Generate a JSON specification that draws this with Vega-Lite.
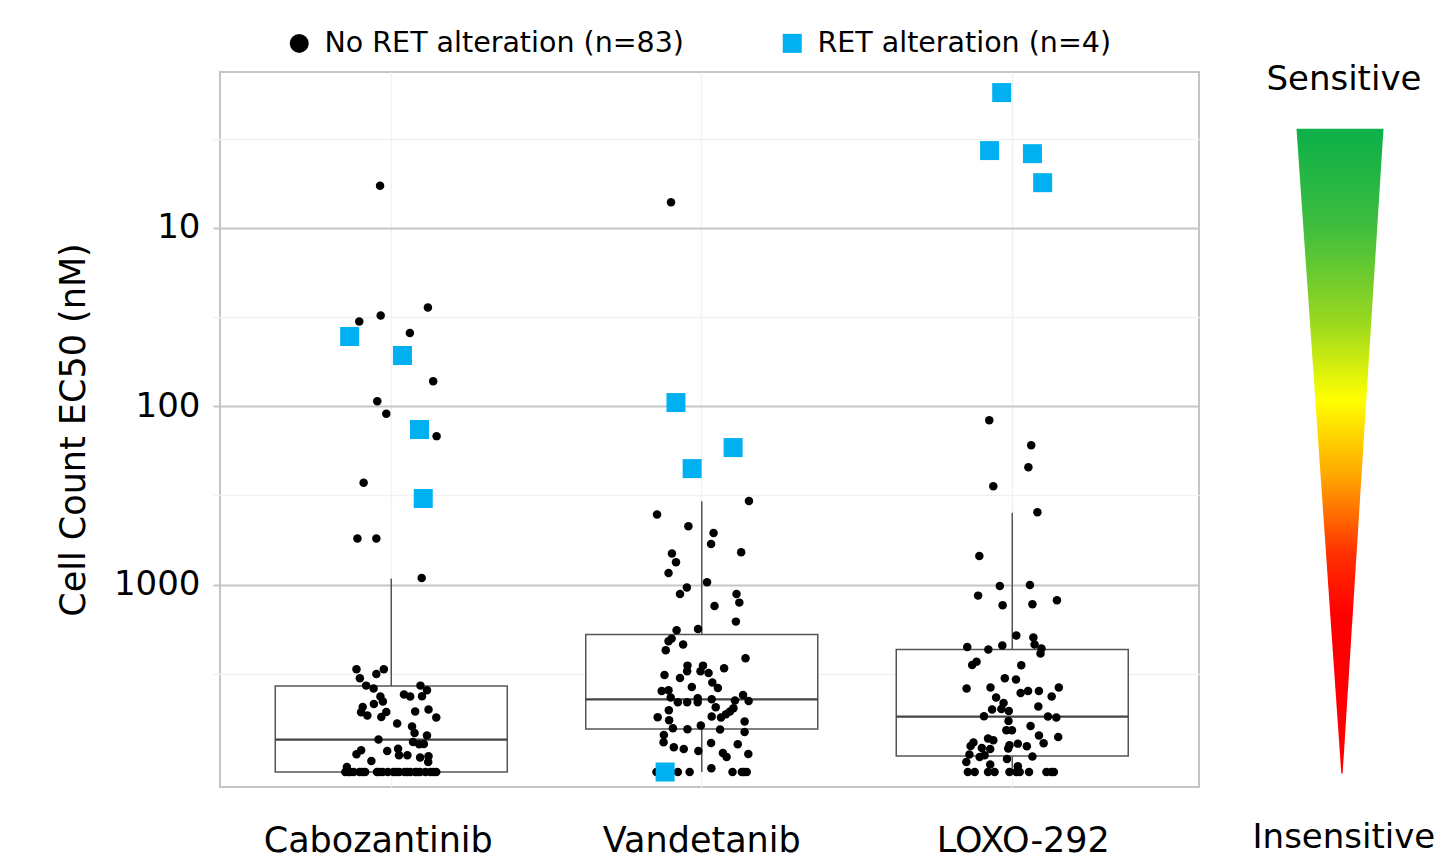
{
"$schema": "https://vega.github.io/schema/vega-lite/v6.json",
"background": "white",
"padding": {"left": 55, "top": 29, "right": 0, "bottom": 0},
"config": {"font": "DejaVu Sans", "concat": {"spacing": 42}},
"datasets": {
"box": [
{"d":"Cabozantinib","lo":925,"q1":3705,"med":7401,"q3":11250,"hi":11250},
{"d":"Vandetanib","lo":341,"q1":1907,"med":4398,"q3":6455,"hi":11250},
{"d":"LOXO-292","lo":395,"q1":2315,"med":5499,"q3":9149,"hi":11250}
],
"pts": [
{"d":"Cabozantinib","j":-0.036,"v":5.8,"g":"No"},{"d":"Cabozantinib","j":0.118,"v":27.9,"g":"No"},{"d":"Cabozantinib","j":-0.034,"v":31,"g":"No"},{"d":"Cabozantinib","j":-0.103,"v":33.5,"g":"No"},{"d":"Cabozantinib","j":0.06,"v":38.8,"g":"No"},{"d":"Cabozantinib","j":0.135,"v":72.4,"g":"No"},{"d":"Cabozantinib","j":-0.045,"v":93.8,"g":"No"},{"d":"Cabozantinib","j":-0.016,"v":110,"g":"No"},{"d":"Cabozantinib","j":0.146,"v":147,"g":"No"},{"d":"Cabozantinib","j":-0.089,"v":268,"g":"No"},{"d":"Cabozantinib","j":-0.109,"v":552,"g":"No"},{"d":"Cabozantinib","j":-0.048,"v":552,"g":"No"},{"d":"Cabozantinib","j":0.098,"v":918,"g":"No"},
{"d":"Cabozantinib","j":-0.112,"v":2985,"g":"No"},{"d":"Cabozantinib","j":-0.048,"v":3172,"g":"No"},{"d":"Cabozantinib","j":-0.024,"v":2985,"g":"No"},{"d":"Cabozantinib","j":-0.101,"v":3354,"g":"No"},{"d":"Cabozantinib","j":-0.081,"v":3686,"g":"No"},{"d":"Cabozantinib","j":-0.057,"v":3831,"g":"No"},{"d":"Cabozantinib","j":0.094,"v":3686,"g":"No"},{"d":"Cabozantinib","j":0.115,"v":3915,"g":"No"},{"d":"Cabozantinib","j":0.041,"v":4140,"g":"No"},{"d":"Cabozantinib","j":0.061,"v":4248,"g":"No"},{"d":"Cabozantinib","j":0.099,"v":4232,"g":"No"},{"d":"Cabozantinib","j":-0.035,"v":4248,"g":"No"},{"d":"Cabozantinib","j":-0.027,"v":4531,"g":"No"},{"d":"Cabozantinib","j":-0.056,"v":4675,"g":"No"},{"d":"Cabozantinib","j":-0.092,"v":4860,"g":"No"},{"d":"Cabozantinib","j":-0.097,"v":5203,"g":"No"},{"d":"Cabozantinib","j":-0.077,"v":5428,"g":"No"},{"d":"Cabozantinib","j":-0.016,"v":5182,"g":"No"},{"d":"Cabozantinib","j":-0.032,"v":5527,"g":"No"},{"d":"Cabozantinib","j":0.077,"v":5156,"g":"No"},{"d":"Cabozantinib","j":0.12,"v":5024,"g":"No"},{"d":"Cabozantinib","j":0.145,"v":5570,"g":"No"},{"d":"Cabozantinib","j":0.019,"v":6020,"g":"No"},{"d":"Cabozantinib","j":0.067,"v":6258,"g":"No"},{"d":"Cabozantinib","j":0.075,"v":6799,"g":"No"},{"d":"Cabozantinib","j":0.115,"v":7030,"g":"No"},{"d":"Cabozantinib","j":-0.041,"v":7401,"g":"No"},{"d":"Cabozantinib","j":0.07,"v":7635,"g":"No"},{"d":"Cabozantinib","j":0.09,"v":7866,"g":"No"},{"d":"Cabozantinib","j":0.105,"v":7834,"g":"No"},{"d":"Cabozantinib","j":-0.097,"v":8501,"g":"No"},{"d":"Cabozantinib","j":-0.112,"v":8950,"g":"No"},{"d":"Cabozantinib","j":-0.013,"v":8578,"g":"No"},{"d":"Cabozantinib","j":0.022,"v":8317,"g":"No"},{"d":"Cabozantinib","j":0.025,"v":9067,"g":"No"},{"d":"Cabozantinib","j":0.052,"v":9067,"g":"No"},{"d":"Cabozantinib","j":0.093,"v":9340,"g":"No"},{"d":"Cabozantinib","j":0.12,"v":9184,"g":"No"},{"d":"Cabozantinib","j":0.119,"v":9886,"g":"No"},{"d":"Cabozantinib","j":-0.064,"v":9757,"g":"No"},
{"d":"Cabozantinib","j":-0.143,"v":10540,"g":"No"},{"d":"Cabozantinib","j":-0.148,"v":11250,"g":"No"},{"d":"Cabozantinib","j":-0.139,"v":11250,"g":"No"},{"d":"Cabozantinib","j":-0.132,"v":11250,"g":"No"},{"d":"Cabozantinib","j":-0.121,"v":11250,"g":"No"},{"d":"Cabozantinib","j":-0.102,"v":11250,"g":"No"},{"d":"Cabozantinib","j":-0.093,"v":11250,"g":"No"},{"d":"Cabozantinib","j":-0.084,"v":11250,"g":"No"},{"d":"Cabozantinib","j":-0.046,"v":11250,"g":"No"},{"d":"Cabozantinib","j":-0.039,"v":11250,"g":"No"},{"d":"Cabozantinib","j":-0.028,"v":11250,"g":"No"},{"d":"Cabozantinib","j":-0.011,"v":11250,"g":"No"},{"d":"Cabozantinib","j":0.007,"v":11250,"g":"No"},{"d":"Cabozantinib","j":0.016,"v":11250,"g":"No"},{"d":"Cabozantinib","j":0.026,"v":11250,"g":"No"},{"d":"Cabozantinib","j":0.043,"v":11250,"g":"No"},{"d":"Cabozantinib","j":0.052,"v":11250,"g":"No"},{"d":"Cabozantinib","j":0.061,"v":11250,"g":"No"},{"d":"Cabozantinib","j":0.077,"v":11250,"g":"No"},{"d":"Cabozantinib","j":0.084,"v":11250,"g":"No"},{"d":"Cabozantinib","j":0.093,"v":11250,"g":"No"},{"d":"Cabozantinib","j":0.11,"v":11250,"g":"No"},{"d":"Cabozantinib","j":0.126,"v":11250,"g":"No"},{"d":"Cabozantinib","j":0.135,"v":11250,"g":"No"},{"d":"Cabozantinib","j":0.145,"v":11250,"g":"No"},
{"d":"Vandetanib","j":-0.099,"v":7.18,"g":"No"},{"d":"Vandetanib","j":0.152,"v":340,"g":"No"},{"d":"Vandetanib","j":-0.144,"v":405,"g":"No"},{"d":"Vandetanib","j":-0.043,"v":471,"g":"No"},{"d":"Vandetanib","j":0.038,"v":513,"g":"No"},{"d":"Vandetanib","j":0.03,"v":592,"g":"No"},{"d":"Vandetanib","j":0.127,"v":659,"g":"No"},{"d":"Vandetanib","j":-0.096,"v":670,"g":"No"},{"d":"Vandetanib","j":-0.083,"v":750,"g":"No"},{"d":"Vandetanib","j":-0.107,"v":861,"g":"No"},{"d":"Vandetanib","j":0.017,"v":971,"g":"No"},{"d":"Vandetanib","j":-0.048,"v":1039,"g":"No"},{"d":"Vandetanib","j":-0.07,"v":1129,"g":"No"},{"d":"Vandetanib","j":0.112,"v":1129,"g":"No"},{"d":"Vandetanib","j":0.121,"v":1262,"g":"No"},{"d":"Vandetanib","j":0.041,"v":1318,"g":"No"},{"d":"Vandetanib","j":0.11,"v":1613,"g":"No"},{"d":"Vandetanib","j":-0.081,"v":1805,"g":"No"},{"d":"Vandetanib","j":-0.012,"v":1774,"g":"No"},{"d":"Vandetanib","j":-0.097,"v":2009,"g":"No"},{"d":"Vandetanib","j":-0.107,"v":2080,"g":"No"},{"d":"Vandetanib","j":-0.06,"v":2170,"g":"No"},{"d":"Vandetanib","j":-0.116,"v":2336,"g":"No"},{"d":"Vandetanib","j":0.141,"v":2590,"g":"No"},{"d":"Vandetanib","j":-0.046,"v":2847,"g":"No"},{"d":"Vandetanib","j":-0.047,"v":3064,"g":"No"},{"d":"Vandetanib","j":0.004,"v":2847,"g":"No"},{"d":"Vandetanib","j":-0.004,"v":3064,"g":"No"},{"d":"Vandetanib","j":0.022,"v":3132,"g":"No"},{"d":"Vandetanib","j":0.072,"v":2947,"g":"No"},{"d":"Vandetanib","j":-0.12,"v":3214,"g":"No"},{"d":"Vandetanib","j":-0.07,"v":3341,"g":"No"},{"d":"Vandetanib","j":-0.032,"v":3752,"g":"No"},{"d":"Vandetanib","j":0.034,"v":3545,"g":"No"},{"d":"Vandetanib","j":0.052,"v":3801,"g":"No"},{"d":"Vandetanib","j":-0.129,"v":3953,"g":"No"},{"d":"Vandetanib","j":-0.107,"v":3916,"g":"No"},{"d":"Vandetanib","j":-0.1,"v":4303,"g":"No"},{"d":"Vandetanib","j":-0.077,"v":4572,"g":"No"},{"d":"Vandetanib","j":-0.047,"v":4572,"g":"No"},{"d":"Vandetanib","j":-0.013,"v":4342,"g":"No"},{"d":"Vandetanib","j":-0.013,"v":4572,"g":"No"},{"d":"Vandetanib","j":0.032,"v":4398,"g":"No"},{"d":"Vandetanib","j":0.045,"v":4877,"g":"No"},{"d":"Vandetanib","j":0.107,"v":4473,"g":"No"},{"d":"Vandetanib","j":0.133,"v":4162,"g":"No"},{"d":"Vandetanib","j":0.151,"v":4496,"g":"No"},{"d":"Vandetanib","j":0.102,"v":4940,"g":"No"},{"d":"Vandetanib","j":0.091,"v":5156,"g":"No"},{"d":"Vandetanib","j":0.078,"v":5339,"g":"No"},{"d":"Vandetanib","j":0.062,"v":5570,"g":"No"},{"d":"Vandetanib","j":0.032,"v":5499,"g":"No"},{"d":"Vandetanib","j":-0.106,"v":5070,"g":"No"},{"d":"Vandetanib","j":-0.142,"v":5549,"g":"No"},{"d":"Vandetanib","j":-0.105,"v":5768,"g":"No"},{"d":"Vandetanib","j":0.138,"v":5866,"g":"No"},{"d":"Vandetanib","j":-0.093,"v":6396,"g":"No"},{"d":"Vandetanib","j":-0.046,"v":6479,"g":"No"},{"d":"Vandetanib","j":-0.003,"v":6178,"g":"No"},{"d":"Vandetanib","j":0.059,"v":6505,"g":"No"},{"d":"Vandetanib","j":0.138,"v":6710,"g":"No"},{"d":"Vandetanib","j":-0.122,"v":6975,"g":"No"},{"d":"Vandetanib","j":-0.123,"v":7664,"g":"No"},{"d":"Vandetanib","j":-0.09,"v":8177,"g":"No"},{"d":"Vandetanib","j":-0.058,"v":8356,"g":"No"},{"d":"Vandetanib","j":-0.011,"v":8576,"g":"No"},{"d":"Vandetanib","j":0.03,"v":7733,"g":"No"},{"d":"Vandetanib","j":0.116,"v":7866,"g":"No"},{"d":"Vandetanib","j":0.068,"v":8800,"g":"No"},{"d":"Vandetanib","j":0.08,"v":9267,"g":"No"},{"d":"Vandetanib","j":0.15,"v":8914,"g":"No"},
{"d":"Vandetanib","j":0.031,"v":10720,"g":"No"},{"d":"Vandetanib","j":-0.146,"v":11250,"g":"No"},{"d":"Vandetanib","j":-0.129,"v":11250,"g":"No"},{"d":"Vandetanib","j":-0.077,"v":11250,"g":"No"},{"d":"Vandetanib","j":-0.039,"v":11250,"g":"No"},{"d":"Vandetanib","j":0.099,"v":11250,"g":"No"},{"d":"Vandetanib","j":0.129,"v":11250,"g":"No"},{"d":"Vandetanib","j":0.136,"v":11250,"g":"No"},{"d":"Vandetanib","j":0.145,"v":11250,"g":"No"},
{"d":"LOXO-292","j":-0.074,"v":119.8,"g":"No"},{"d":"LOXO-292","j":0.061,"v":165.4,"g":"No"},{"d":"LOXO-292","j":0.052,"v":219.9,"g":"No"},{"d":"LOXO-292","j":-0.061,"v":281,"g":"No"},{"d":"LOXO-292","j":0.081,"v":393,"g":"No"},{"d":"LOXO-292","j":-0.106,"v":691,"g":"No"},{"d":"LOXO-292","j":-0.04,"v":1018,"g":"No"},{"d":"LOXO-292","j":0.057,"v":1005,"g":"No"},{"d":"LOXO-292","j":-0.11,"v":1153,"g":"No"},{"d":"LOXO-292","j":-0.031,"v":1307,"g":"No"},{"d":"LOXO-292","j":0.065,"v":1290,"g":"No"},{"d":"LOXO-292","j":0.144,"v":1225,"g":"No"},{"d":"LOXO-292","j":0.013,"v":1932,"g":"No"},{"d":"LOXO-292","j":0.068,"v":1983,"g":"No"},{"d":"LOXO-292","j":0.072,"v":2170,"g":"No"},{"d":"LOXO-292","j":-0.145,"v":2239,"g":"No"},{"d":"LOXO-292","j":-0.077,"v":2315,"g":"No"},{"d":"LOXO-292","j":-0.032,"v":2198,"g":"No"},{"d":"LOXO-292","j":0.094,"v":2285,"g":"No"},{"d":"LOXO-292","j":0.091,"v":2438,"g":"No"},{"d":"LOXO-292","j":-0.115,"v":2704,"g":"No"},{"d":"LOXO-292","j":-0.129,"v":2824,"g":"No"},{"d":"LOXO-292","j":0.029,"v":2836,"g":"No"},{"d":"LOXO-292","j":-0.024,"v":3354,"g":"No"},{"d":"LOXO-292","j":0.012,"v":3411,"g":"No"},{"d":"LOXO-292","j":-0.147,"v":3831,"g":"No"},{"d":"LOXO-292","j":-0.07,"v":3782,"g":"No"},{"d":"LOXO-292","j":0.027,"v":4055,"g":"No"},{"d":"LOXO-292","j":0.051,"v":3953,"g":"No"},{"d":"LOXO-292","j":0.086,"v":3953,"g":"No"},{"d":"LOXO-292","j":0.15,"v":3782,"g":"No"},{"d":"LOXO-292","j":0.127,"v":4248,"g":"No"},{"d":"LOXO-292","j":-0.052,"v":4303,"g":"No"},{"d":"LOXO-292","j":-0.028,"v":4613,"g":"No"},{"d":"LOXO-292","j":-0.065,"v":5024,"g":"No"},{"d":"LOXO-292","j":-0.035,"v":4986,"g":"No"},{"d":"LOXO-292","j":-0.011,"v":5115,"g":"No"},{"d":"LOXO-292","j":0.084,"v":4833,"g":"No"},{"d":"LOXO-292","j":-0.091,"v":5478,"g":"No"},{"d":"LOXO-292","j":-0.012,"v":5821,"g":"No"},{"d":"LOXO-292","j":0.115,"v":5499,"g":"No"},{"d":"LOXO-292","j":0.142,"v":5570,"g":"No"},{"d":"LOXO-292","j":0.059,"v":6209,"g":"No"},{"d":"LOXO-292","j":-0.019,"v":6565,"g":"No"},{"d":"LOXO-292","j":-0.001,"v":6565,"g":"No"},{"d":"LOXO-292","j":-0.078,"v":7307,"g":"No"},{"d":"LOXO-292","j":-0.061,"v":7468,"g":"No"},{"d":"LOXO-292","j":0.086,"v":7030,"g":"No"},{"d":"LOXO-292","j":0.148,"v":7159,"g":"No"},{"d":"LOXO-292","j":-0.125,"v":7693,"g":"No"},{"d":"LOXO-292","j":-0.134,"v":8040,"g":"No"},{"d":"LOXO-292","j":-0.009,"v":7968,"g":"No"},{"d":"LOXO-292","j":0.018,"v":7796,"g":"No"},{"d":"LOXO-292","j":0.047,"v":8071,"g":"No"},{"d":"LOXO-292","j":0.101,"v":7766,"g":"No"},{"d":"LOXO-292","j":-0.098,"v":8250,"g":"No"},{"d":"LOXO-292","j":-0.071,"v":8356,"g":"No"},{"d":"LOXO-292","j":-0.013,"v":8314,"g":"No"},{"d":"LOXO-292","j":-0.138,"v":8983,"g":"No"},{"d":"LOXO-292","j":-0.105,"v":9267,"g":"No"},{"d":"LOXO-292","j":-0.089,"v":9067,"g":"No"},{"d":"LOXO-292","j":0.065,"v":9220,"g":"No"},{"d":"LOXO-292","j":-0.017,"v":9510,"g":"No"},{"d":"LOXO-292","j":-0.148,"v":9886,"g":"No"},{"d":"LOXO-292","j":-0.071,"v":10220,"g":"No"},{"d":"LOXO-292","j":0.018,"v":10450,"g":"No"},
{"d":"LOXO-292","j":-0.143,"v":11250,"g":"No"},{"d":"LOXO-292","j":-0.121,"v":11250,"g":"No"},{"d":"LOXO-292","j":-0.078,"v":11250,"g":"No"},{"d":"LOXO-292","j":-0.057,"v":11250,"g":"No"},{"d":"LOXO-292","j":-0.009,"v":11250,"g":"No"},{"d":"LOXO-292","j":0.013,"v":11250,"g":"No"},{"d":"LOXO-292","j":0.024,"v":11250,"g":"No"},{"d":"LOXO-292","j":0.054,"v":11250,"g":"No"},{"d":"LOXO-292","j":0.11,"v":11250,"g":"No"},{"d":"LOXO-292","j":0.126,"v":11250,"g":"No"},{"d":"LOXO-292","j":0.134,"v":11250,"g":"No"}
],
"ret": [
{"d":"Cabozantinib","j":-0.134,"v":40.6,"g":"RET"},{"d":"Cabozantinib","j":0.036,"v":51.9,"g":"RET"},{"d":"Cabozantinib","j":0.091,"v":135,"g":"RET"},{"d":"Cabozantinib","j":0.103,"v":329,"g":"RET"},
{"d":"Vandetanib","j":-0.083,"v":95.3,"g":"RET"},{"d":"Vandetanib","j":0.101,"v":170.4,"g":"RET"},{"d":"Vandetanib","j":-0.031,"v":223.6,"g":"RET"},{"d":"Vandetanib","j":-0.118,"v":11250,"g":"RET"},
{"d":"LOXO-292","j":-0.034,"v":1.74,"g":"RET"},{"d":"LOXO-292","j":-0.073,"v":3.68,"g":"RET"},{"d":"LOXO-292","j":0.065,"v":3.83,"g":"RET"},{"d":"LOXO-292","j":0.098,"v":5.57,"g":"RET"}
],
"tri": [{"t":0,"xl":-1,"xr":1},{"t":1,"xl":0.03,"xr":0.06}],
"lbl": [{"s":"Sensitive","t":-0.0752,"x":0.09},{"s":"Insensitive","t":1.1001,"x":0.09}]
},
"hconcat": [
{
"width": 979, "height": 715,
"view": {"stroke": "#c4c4c4", "strokeWidth": 2},
"layer": [
{"data": {"name": "box"},
 "mark": {"type": "rule", "color": "#555555", "strokeWidth": 1.5},
 "encoding": {
  "x": {"field": "d", "type": "nominal",
   "scale": {"domain": ["Cabozantinib","Vandetanib","LOXO-292"], "paddingInner": 0, "paddingOuter": 0.0765, "align": 0.337},
   "axis": {"title": null, "domain": false, "ticks": false, "tickSize": 0, "grid": true, "gridColor": "#f2f2f2", "gridWidth": 1.5, "bandPosition": 0.5,
    "labelFontSize": 35, "labelColor": "black", "labelPadding": 36, "labelAngle": 0, "labelLimit": 0,
    "labelOffset": {"condition": [{"test": "datum.value == 'Cabozantinib'", "value": -13}, {"test": "datum.value == 'LOXO-292'", "value": 11}], "value": 0}}},
  "y": {"field": "lo", "type": "quantitative",
   "scale": {"type": "log", "domain": [1.334, 13650], "reverse": true, "nice": false, "zero": false},
   "axis": {"values": [3.1623, 10, 31.623, 100, 316.23, 1000, 3162.3], "grid": true, "domain": false,
    "gridColor": {"condition": {"test": "datum.value == 10 || datum.value == 100 || datum.value == 1000", "value": "#c6c6c6"}, "value": "#f1f1f1"},
    "gridWidth": {"condition": {"test": "datum.value == 10 || datum.value == 100 || datum.value == 1000", "value": 2}, "value": 1.5},
    "tickColor": {"condition": {"test": "datum.value == 10 || datum.value == 100 || datum.value == 1000", "value": "#c6c6c6"}, "value": "#f1f1f1"},
    "tickWidth": {"condition": {"test": "datum.value == 10 || datum.value == 100 || datum.value == 1000", "value": 2}, "value": 1.5},
    "tickSize": 7,
    "labelExpr": "datum.value == 10 || datum.value == 100 || datum.value == 1000 ? format(datum.value, 'd') : ''",
    "labelFontSize": 34, "labelColor": "black", "labelPadding": 13,
    "title": "Cell Count EC50 (nM)", "titleFontSize": 35, "titleFontWeight": "normal", "titleColor": "black", "titlePadding": 22}},
  "y2": {"field": "hi"}}},
{"data": {"name": "box"},
 "mark": {"type": "bar", "fill": "white", "stroke": "#555555", "strokeWidth": 1.5, "width": 232},
 "encoding": {"x": {"field": "d", "type": "nominal"}, "y": {"field": "q1", "type": "quantitative"}, "y2": {"field": "q3"}}},
{"data": {"name": "box"},
 "mark": {"type": "bar", "fill": "#444444", "stroke": "#444444", "strokeWidth": 2.2, "width": 232},
 "encoding": {"x": {"field": "d", "type": "nominal"}, "y": {"field": "med", "type": "quantitative"}, "y2": {"field": "med"}}},
{"data": {"name": "pts"},
 "mark": {"type": "point", "filled": true, "opacity": 1, "size": 72},
 "encoding": {
  "x": {"field": "d", "type": "nominal"},
  "xOffset": {"field": "j", "type": "quantitative", "scale": {"domain": [-0.5, 0.5]}},
  "y": {"field": "v", "type": "quantitative"},
  "color": {"field": "g", "type": "nominal", "scale": {"domain": ["No","RET"], "range": ["#000000","#00b0f0"]},
   "legend": {"orient": "none", "legendX": 65, "legendY": -43, "direction": "horizontal", "title": null,
    "labelExpr": "datum.label == 'No' ? 'No RET alteration (n=83)' : 'RET alteration (n=4)'",
    "labelFontSize": 28.5, "labelColor": "black", "labelLimit": 0, "symbolSize": 361, "labelOffset": 11, "columnPadding": 94, "symbolStrokeWidth": 0}},
  "shape": {"field": "g", "type": "nominal", "scale": {"domain": ["No","RET"], "range": ["circle","square"]}}}},
{"data": {"name": "ret"},
 "mark": {"type": "point", "filled": true, "opacity": 1, "size": 361},
 "encoding": {
  "x": {"field": "d", "type": "nominal"},
  "xOffset": {"field": "j", "type": "quantitative"},
  "y": {"field": "v", "type": "quantitative"},
  "color": {"field": "g", "type": "nominal"},
  "shape": {"field": "g", "type": "nominal"}}}
]
},
{
"width": 197, "height": 715,
"view": {"stroke": null},
"layer": [
{"data": {"name": "tri"},
 "mark": {"type": "area", "orient": "horizontal",
  "color": {"gradient": "linear", "x1": 0, "y1": 0, "x2": 0, "y2": 1,
   "stops": [{"offset": 0, "color": "#0cb04a"}, {"offset": 0.15, "color": "#3dbd3e"}, {"offset": 0.3, "color": "#9ad81f"}, {"offset": 0.42, "color": "#ffff00"}, {"offset": 0.54, "color": "#ffa500"}, {"offset": 0.66, "color": "#ff3000"}, {"offset": 0.75, "color": "#ff0000"}, {"offset": 1, "color": "#ff0000"}]}},
 "encoding": {
  "y": {"field": "t", "type": "quantitative", "scale": {"domain": [-0.0881, 1.0208], "reverse": true, "nice": false, "zero": false}, "axis": null},
  "x": {"field": "xl", "type": "quantitative", "scale": {"domain": [-2.253, 2.276], "nice": false, "zero": false}, "axis": null},
  "x2": {"field": "xr"}}},
{"data": {"name": "lbl"},
 "mark": {"type": "text", "fontSize": 34, "align": "center", "baseline": "middle", "color": "black"},
 "encoding": {
  "y": {"field": "t", "type": "quantitative"},
  "x": {"field": "x", "type": "quantitative"},
  "text": {"field": "s"}}}
]
}
]
}
